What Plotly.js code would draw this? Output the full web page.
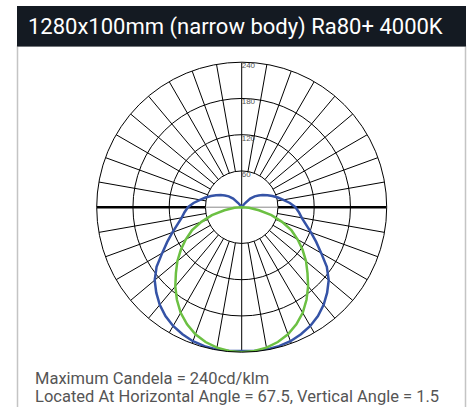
<!DOCTYPE html>
<html>
<head>
<meta charset="utf-8">
<script src="https://cdn.plot.ly/plotly-3.0.1.min.js"></script>
<style>html,body{margin:0;padding:0;background:#fff;}#chart{width:471px;height:407px;}</style>
</head>
<body>
<div id="chart"></div>
<script>
// Vertical angle from nadir (degrees), one half of the symmetric curves
const verticalAngles = [0,5,10,15,20,25,30,35,40,45,50,55,60,65,70,75,80,85,90,95,100,105,110,115,120,125,130,135,140,145,150,160,170,180];
// Blue plane (cd/klm)
const blueCd = [238,239,239,238,236,232,227,220,211,200,188,172,152,136,122,110,101,95,89,80,70,62,54,47,40,34,28,20,9,2,0,0,0,0];
// Green plane (cd/klm)
const greenCd = [240,239,236,231,224,214,202,187,171,154,139,123,107,91,71,51,29,12,0,0,0,0,0,0,0,0,0,0,0,0,0,0,0,0];
const ringValues = [60,120,180,240];
const ringLabels = ['60','120','180','240'];
const titleText = '1280x100mm (narrow body) Ra80+ 4000K';
const footLine1 = 'Maximum Candela = 240cd/klm';
const footLine2 = 'Located At Horizontal Angle = 67.5, Vertical Angle = 1.5';

function mirror(vals){
  const th = verticalAngles.slice();
  const r = vals.slice();
  for (let i = verticalAngles.length - 2; i >= 0; i--) {
    th.push(360 - verticalAngles[i]);
    r.push(vals[i]);
  }
  return {th, r};
}

const traces = [];
const spT = [], spR = [];
for (let a = 0; a < 360; a += 10) {
  if (a % 90 === 0) continue;
  spT.push(a, a, null); spR.push(60, 240, null);
}
traces.push({type:'scatterpolar', mode:'lines', theta:spT, r:spR, line:{color:'#000', width:1}, hoverinfo:'skip', connectgaps:false});
traces.push({type:'scatterpolar', mode:'lines', theta:[0,0,180], r:[240,0,240], line:{color:'#000', width:1}, hoverinfo:'skip'});
traces.push({type:'scatterpolar', mode:'lines', theta:[90,90,null,270,270], r:[60,240,null,60,240], line:{color:'#000', width:2.5}, hoverinfo:'skip'});
traces.push({type:'scatterpolar', mode:'lines', theta:[90,90,270], r:[60,0,60], line:{color:'#888', width:1}, hoverinfo:'skip'});

const b = mirror(blueCd), g = mirror(greenCd);
traces.push({type:'scatterpolar', mode:'lines', theta:b.th, r:b.r, line:{color:'#3553a6', width:2.5}, hoverinfo:'skip'});
traces.push({type:'scatterpolar', mode:'lines', theta:g.th, r:g.r, line:{color:'#6cc043', width:2.5}, hoverinfo:'skip'});
traces.push({type:'scatterpolar', mode:'text', theta:ringValues.map(()=>180), r:ringValues, text:ringLabels, textposition:'bottom right', textfont:{family:'Liberation Sans, Arial, sans-serif', size:8, color:'#555'}, hoverinfo:'skip'});

const W = 471, H = 407;
const px = x => x / W, py = y => 1 - y / H;
const cx = 241.7, cy = 207.2, R = 145;

const layout = {
  width: W, height: H,
  margin: {l:0, r:0, t:0, b:0},
  paper_bgcolor: '#fff',
  showlegend: false,
  polar: {
    domain: {x:[px(cx - R), px(cx + R)], y:[py(cy + R), py(cy - R)]},
    bgcolor: '#fff',
    radialaxis: {range:[0,240], tickvals:[60,120,180], showgrid:true, gridcolor:'#000', gridwidth:1, showline:false, showticklabels:false, ticks:''},
    angularaxis: {rotation:-90, direction:'counterclockwise', showgrid:false, showline:true, linecolor:'#000', linewidth:1, showticklabels:false, ticks:''}
  },
  shapes: [
    {type:'rect', xref:'paper', yref:'paper', x0:px(17.5), x1:px(465.5), y0:py(420), y1:py(46), line:{color:'#c4c4c4', width:1.5}, fillcolor:'rgba(0,0,0,0)', layer:'below'},
    {type:'rect', xref:'paper', yref:'paper', x0:px(17), x1:px(466), y0:py(46.5), y1:py(6), line:{width:0}, fillcolor:'#141a22', layer:'above'}
  ],
  annotations: [
    {xref:'paper', yref:'paper', x:px(26), y:py(26.5), xanchor:'left', yanchor:'middle', text:titleText, showarrow:false, font:{family:'Roboto, sans-serif', size:22, color:'#fff'}},
    {xref:'paper', yref:'paper', x:px(33), y:py(378), xanchor:'left', yanchor:'middle', text:footLine1, showarrow:false, font:{family:'Roboto, sans-serif', size:16.5, color:'#555'}},
    {xref:'paper', yref:'paper', x:px(33), y:py(396.5), xanchor:'left', yanchor:'middle', text:footLine2, showarrow:false, font:{family:'Roboto, sans-serif', size:16.5, color:'#555'}}
  ]
};
Plotly.newPlot('chart', traces, layout, {staticPlot:true, displayModeBar:false});
</script>
</body>
</html>
